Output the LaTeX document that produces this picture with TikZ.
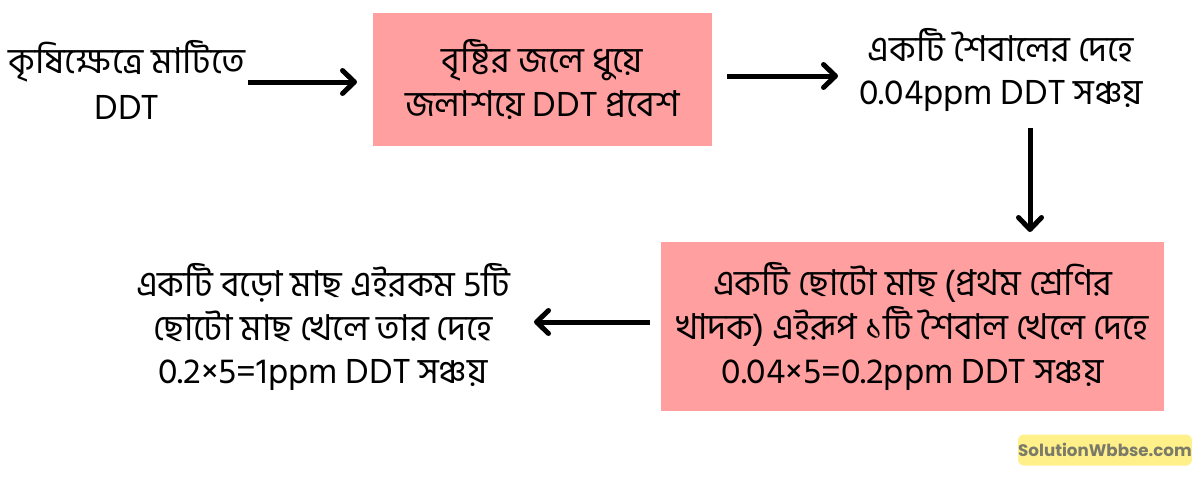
\documentclass[tikz,border=0pt]{standalone}
\usepackage{fontspec}
\setmainfont{Hind Siliguri}[Script=Bengali]
\newfontfamily\wmfont{Poppins}
\usetikzlibrary{arrows.meta}
\definecolor{boxpink}{HTML}{FF9F9F}
\definecolor{wmyellow}{HTML}{FFF08A}
\definecolor{wmtext}{HTML}{7A7A6A}
\tikzset{
  lbl/.style={align=center, font=\fontsize{20.3}{24.8}\selectfont, text=black, inner sep=0pt},
  pinkbox/.style={fill=boxpink, draw=none, align=center, font=\fontsize{20.3}{24.8}\selectfont, inner sep=0pt},
  flow/.style={line width=0.1cm, -{Straight Barb[length=0.24cm, width=0.46cm, line cap=round, line join=round]}},
}
\begin{document}
\begin{tikzpicture}[x=0.02cm, y=-0.02cm]
\useasboundingbox (0,0) rectangle (1200,480);
\fill[white] (0,0) rectangle (1200,480);
% nodes
\node[lbl, font=\fontsize{20.3}{26.5}\selectfont] (n1) at (127,80) {কৃষিক্ষেত্রে মাটিতে\\DDT};
\node[pinkbox, minimum width=6.78cm, minimum height=2.66cm] (n2) at (542.5,79.5) {বৃষ্টির জলে ধুয়ে\\জলাশয়ে DDT প্রবেশ};
\node[lbl] (n3) at (1001,70) {একটি শৈবালের দেহে\\0.04ppm DDT সঞ্চয়};
\node[pinkbox, minimum width=10.06cm, minimum height=3.38cm] (n4) at (912.5,326.5) {একটি ছোটো মাছ (প্রথম শ্রেণির\\খাদক) এইরূপ ১টি শৈবাল খেলে দেহে\\0.04×5=0.2ppm DDT সঞ্চয়};
\node[lbl] (n5) at (323,327) {একটি বড়ো মাছ এইরকম 5টি\\ছোটো মাছ খেলে তার দেহে\\0.2×5=1ppm DDT সঞ্চয়};
% connector end points
\coordinate (a1s) at (248,82);
\coordinate (a1e) at (357,82);
\coordinate (a2s) at (727,76);
\coordinate (a2e) at (838,76);
\coordinate (a3s) at (1030,128);
\coordinate (a3e) at (1030,232);
\coordinate (a4s) at (650,322);
\coordinate (a4e) at (534,322);
\draw[flow] (a1s) -- (a1e);
\draw[flow] (a2s) -- (a2e);
\draw[flow] (a3s) -- (a3e);
\draw[flow] (a4s) -- (a4e);
% watermark
\node[fill=wmyellow, rounded corners=0.12cm, minimum width=3.48cm, minimum height=0.62cm, inner sep=0pt, text=wmtext, font=\wmfont\bfseries\fontsize{9.5}{11}\selectfont] (wm) at (1105,450) {SolutionWbbse.com};
\end{tikzpicture}
\end{document}
